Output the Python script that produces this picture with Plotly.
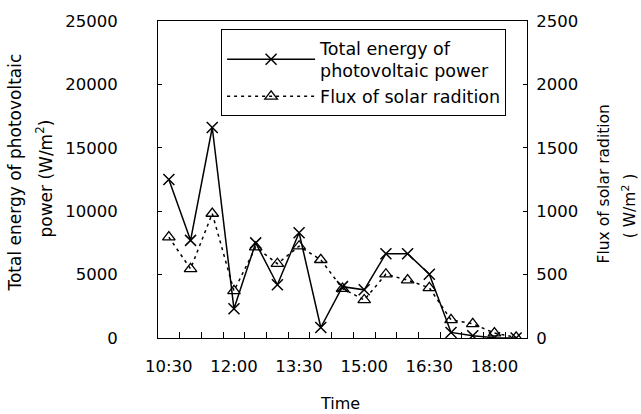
import plotly.graph_objects as go

# ---- data ----
times = ["10:30", "11:00", "11:30", "12:00", "12:30", "13:00", "13:30", "14:00", "14:30",
         "15:00", "15:30", "16:00", "16:30", "17:00", "17:30", "18:00", "18:30"]
energy = [12500, 7700, 16600, 2300, 7500, 4200, 8300, 830, 4050,
          3800, 6650, 6650, 5030, 440, 180, 20, 0]
flux = [795, 545, 982, 372, 716, 586, 724, 617, 390,
        300, 503, 456, 396, 143, 112, 39, 5]
x_tick_labels = ["10:30", "12:00", "13:30", "15:00", "16:30", "18:00"]
left_ticks = [0, 5000, 10000, 15000, 20000, 25000]
right_ticks = [0, 500, 1000, 1500, 2000, 2500]

DAY = "2000-01-01 "
xs = [DAY + t for t in times]
x_range = [DAY + "10:15", DAY + "18:45"]

FONT = "DejaVu Sans"

fig = go.Figure()
fig.add_trace(go.Scatter(
    x=xs, y=energy, name="Total energy of<br>photovoltaic power",
    mode="lines+markers",
    line=dict(color="black", width=1.5),
    marker=dict(symbol="x-thin-open", size=11, color="black",
                line=dict(color="black", width=1.5)),
    xaxis="x", yaxis="y"))
fig.add_trace(go.Scatter(
    x=xs, y=flux, name="Flux of solar radition",
    mode="lines+markers",
    line=dict(color="black", width=1.5, dash="3px,4px"),
    marker=dict(symbol="triangle-up-open", size=11, color="black",
                line=dict(color="black", width=1.3)),
    xaxis="x2", yaxis="y2"))

fig.update_layout(
    width=641, height=414,
    margin=dict(l=158, r=114, t=18, b=76),
    paper_bgcolor="white", plot_bgcolor="white",
    font=dict(family=FONT, color="black", size=16.5),
    showlegend=True,
    legend=dict(x=0.171, y=0.975, xanchor="left", yanchor="top",
                bordercolor="black", borderwidth=1, bgcolor="white",
                font=dict(family=FONT, size=17.5, color="black"),
                itemwidth=88, tracegroupgap=0),
    # axis carrying the boundary tick marks
    xaxis=dict(type="date", range=x_range,
               tickmode="linear", tick0=DAY + "10:15", dtick=1800000,
               ticks="inside", ticklen=6, tickcolor="black", tickwidth=1,
               showticklabels=False,
               showgrid=False, zeroline=False,
               showline=True, linecolor="black", linewidth=1, mirror=True),
    # axis carrying the time labels
    xaxis2=dict(type="date", range=x_range, overlaying="x", anchor="y2", side="bottom",
                tickmode="array",
                tickvals=[DAY + t for t in x_tick_labels],
                ticktext=x_tick_labels,
                ticks="", showgrid=False, zeroline=False, showline=False,
                ticklabelstandoff=16,
                tickfont=dict(family=FONT, size=16.5, color="black")),
    yaxis=dict(range=[0, 25000], tickmode="array", tickvals=left_ticks,
               tickformat="d",
               ticks="inside", ticklen=4, tickcolor="black",
               showgrid=False, zeroline=False,
               showline=True, linecolor="black", linewidth=1, mirror=True,
               ticklabelstandoff=36,
               tickfont=dict(family=FONT, size=16.5, color="black")),
    yaxis2=dict(range=[0, 2500], tickmode="array", tickvals=right_ticks,
                tickformat="d",
                overlaying="y", side="right",
                ticks="inside", ticklen=4, tickcolor="black",
                showgrid=False, zeroline=False,
                showline=True, linecolor="black", linewidth=1,
                ticklabelstandoff=5,
                tickfont=dict(family=FONT, size=16.5, color="black")),
)

def px_x(p):
    return (p - 158) / 369.0

def px_y(p):
    return (338 - p) / 320.0

ann = [
    dict(text="Total energy of photovoltaic", x=px_x(15), y=px_y(171), size=17),
    dict(text="power (W/m<sup>2</sup>)", x=px_x(44), y=px_y(177), size=17),
    dict(text="Flux of solar radition", x=px_x(604), y=px_y(183), size=15.5),
    dict(text="( W/m<sup>2</sup> )", x=px_x(629), y=px_y(205), size=15.5),
]
for a in ann:
    fig.add_annotation(text=a["text"], x=a["x"], y=a["y"], xref="paper", yref="paper",
                       xanchor="center", yanchor="middle", textangle=-90, showarrow=False,
                       font=dict(family=FONT, size=a["size"], color="black"))
fig.add_annotation(text="Time", x=px_x(340), y=px_y(404), xref="paper", yref="paper",
                   xanchor="center", yanchor="middle", showarrow=False,
                   font=dict(family=FONT, size=16, color="black"))

fig.write_html("out.html", config={"displayModeBar": False},
               post_script="document.body.style.margin='0';")
